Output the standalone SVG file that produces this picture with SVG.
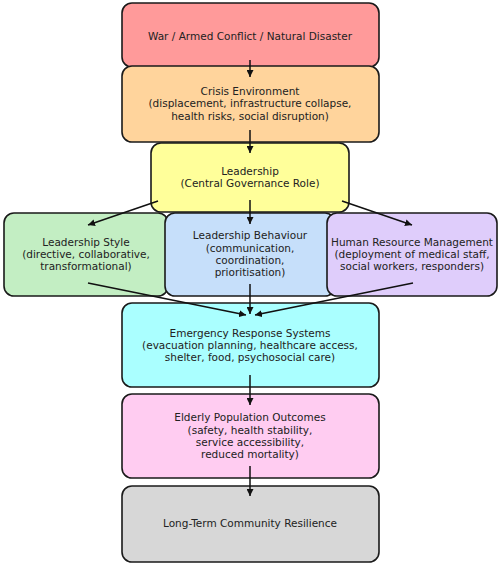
<svg xmlns="http://www.w3.org/2000/svg" width="500" height="564" viewBox="0 0 500 564">
<style>
.box{stroke:#1a1a1a;stroke-width:1.6}
.t{font-family:"DejaVu Sans",sans-serif;font-size:10.5px;fill:#222;text-anchor:middle;dominant-baseline:central}
.c{stroke:#111;stroke-width:1.5;fill:none;marker-end:url(#ah)}
</style>
<defs>
<marker id="ah" viewBox="0 0 10 10" refX="10" refY="5" markerWidth="7" markerHeight="7" markerUnits="userSpaceOnUse" orient="auto">
<path d="M0,0 L10,5 L0,10 z" fill="#111"/>
</marker>
</defs>
<rect width="500" height="564" fill="#fff"/>
<g id="n-war"><rect class="box" x="122" y="3" width="257" height="64" rx="10" fill="#ff9a9a"/><text class="t" x="250" y="36">War / Armed Conflict / Natural Disaster</text></g>
<g id="n-crisis"><rect class="box" x="122" y="66" width="257" height="76" rx="10" fill="#ffd49c"/><text class="t" x="250" y="91">Crisis Environment</text><text class="t" x="250" y="103.3">(displacement, infrastructure collapse,</text><text class="t" x="250" y="115.6">health risks, social disruption)</text></g>
<g id="n-leadership"><rect class="box" x="151" y="143" width="198" height="69" rx="10" fill="#ffff9a"/><text class="t" x="250" y="170.7">Leadership</text><text class="t" x="250" y="183.3">(Central Governance Role)</text></g>
<g id="n-style"><rect class="box" x="4" y="213" width="164" height="83" rx="10" fill="#c3eec3"/><text class="t" x="86" y="242.3">Leadership Style</text><text class="t" x="86" y="254">(directive, collaborative,</text><text class="t" x="86" y="265.7">transformational)</text></g>
<g id="n-behaviour"><rect class="box" x="165" y="213" width="170" height="83" rx="10" fill="#c6dffa"/><text class="t" x="250" y="235">Leadership Behaviour</text><text class="t" x="250" y="247.5">(communication,</text><text class="t" x="250" y="259.8">coordination,</text><text class="t" x="250" y="272">prioritisation)</text></g>
<g id="n-hrm"><rect class="box" x="327" y="213" width="170" height="83" rx="10" fill="#dfcdfb"/><text class="t" x="412" y="242.3">Human Resource Management</text><text class="t" x="412" y="254">(deployment of medical staff,</text><text class="t" x="412" y="265.7">social workers, responders)</text></g>
<g id="n-ers"><rect class="box" x="122" y="303" width="257" height="84" rx="10" fill="#aaffff"/><text class="t" x="250" y="332.7">Emergency Response Systems</text><text class="t" x="250" y="345">(evacuation planning, healthcare access,</text><text class="t" x="250" y="357">shelter, food, psychosocial care)</text></g>
<g id="n-elderly"><rect class="box" x="122" y="394" width="257" height="84" rx="10" fill="#ffccf1"/><text class="t" x="250" y="417.3">Elderly Population Outcomes</text><text class="t" x="250" y="429.6">(safety, health stability,</text><text class="t" x="250" y="441.8">service accessibility,</text><text class="t" x="250" y="454">reduced mortality)</text></g>
<g id="n-resilience"><rect class="box" x="122" y="486" width="257" height="76" rx="10" fill="#d7d7d7"/><text class="t" x="250" y="522.7">Long-Term Community Resilience</text></g>
<g id="connectors">
<line class="c" x1="250" y1="60" x2="250" y2="77"/>
<line class="c" x1="250" y1="130" x2="250" y2="153"/>
<line class="c" x1="158" y1="201" x2="88" y2="225"/>
<line class="c" x1="250" y1="200" x2="250" y2="224"/>
<line class="c" x1="342" y1="201" x2="412" y2="225"/>
<line class="c" x1="88" y1="283" x2="246" y2="315"/>
<line class="c" x1="250" y1="284" x2="250" y2="314"/>
<line class="c" x1="413" y1="283" x2="255" y2="315"/>
<line class="c" x1="250" y1="375" x2="250" y2="405"/>
<line class="c" x1="250" y1="466" x2="250" y2="496"/>
</g>
</svg>
